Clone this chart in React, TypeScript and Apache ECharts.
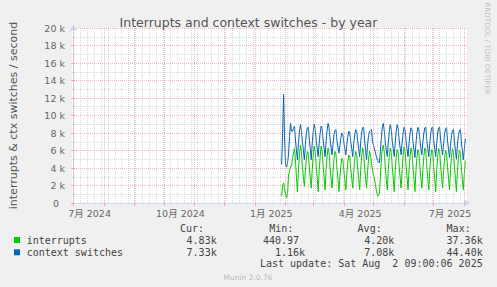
import React, { useEffect, useRef } from 'react';
import * as echarts from 'echarts';

const TITLE = 'Interrupts and context switches - by year';
const Y_NAME = 'interrupts & ctx switches / second';
const AXIS_ORIGIN = '2024-07-01';
const SERIES_START = '2025-01-28';

// daily values, thousands per second, from 2025-01-28
const interrupts = [
  0.76, 2.0, 2.3, 1.5, 1.0, 0.6, 1.1, 3.2, 3.6, 4.2, 4.2, 5.1, 5.7, 6.3, 4.8, 2.9,
  1.3, 3.8, 5.4, 6.6, 5.9, 4.3, 3.0,
  1.9, 3.6, 5.0, 5.9, 5.6, 4.1, 2.9,
  1.7, 3.9, 5.4, 6.5, 5.8, 4.2, 2.9,
  1.3, 3.7, 5.3, 6.5, 5.9, 4.3, 2.9,
  1.5, 3.8, 5.3, 6.3, 5.8, 4.2, 2.9,
  1.7, 3.5, 5.0, 5.9, 5.6, 4.0, 2.8,
  1.3, 3.0, 4.3, 5.1, 4.9, 3.7, 2.6,
  1.5, 3.3, 4.7, 5.5, 5.2, 3.9, 2.8,
  1.7, 3.5, 5.0, 5.9, 5.5, 4.0, 2.8,
  1.5, 3.7, 5.3, 6.3, 5.8, 4.1, 2.8,
  1.7, 3.6, 5.0, 5.9, 5.4, 4.6, 3.7,
  3.2, 2.8, 2.0, 1.4, 0.9, 0.8, 1.1,
  3.0, 5.0, 6.3, 6.6, 5.7, 4.0, 2.7,
  1.5, 3.8, 5.3, 6.3, 5.8, 4.2, 2.8,
  1.3, 3.7, 5.2, 6.1, 5.7, 4.1, 2.9,
  1.7, 3.8, 5.4, 6.4, 5.9, 4.2, 2.9,
  1.5, 3.8, 5.3, 6.3, 5.8, 4.1, 2.8,
  1.3, 3.7, 5.2, 6.1, 5.7, 4.2, 2.9,
  1.7, 3.8, 5.3, 6.3, 5.9, 4.2, 2.8,
  1.5, 3.7, 5.2, 6.1, 5.8, 4.1, 2.8,
  1.3, 3.7, 5.3, 6.2, 5.9, 4.2, 2.9,
  1.7, 3.7, 5.1, 6.0, 5.7, 4.1, 2.8,
  1.5, 3.8, 5.3, 6.2, 5.8, 4.1, 2.8,
  1.3, 3.6, 5.1, 6.0, 5.7, 4.0, 2.7,
  1.5, 3.4, 4.83,
];

const ctxSwitches = [
  4.4, 8.0, 12.4, 7.2, 4.4, 4.1, 4.6, 5.6, 7.6, 9.1, 8.2, 8.2, 8.5, 8.8, 7.2, 6.0,
  4.95, 6.9, 8.1, 8.95, 8.3, 7.0, 6.1,
  4.95, 6.7, 7.9, 8.6, 8.65, 7.3, 6.2,
  4.95, 6.9, 8.2, 9.0, 8.4, 7.1, 6.3,
  5.3, 6.8, 8.0, 8.8, 8.5, 7.2, 6.3,
  5.3, 7.0, 8.3, 9.1, 8.6, 7.3, 6.4,
  5.5, 6.7, 7.8, 8.3, 8.4, 7.1, 6.4,
  5.7, 6.6, 7.5, 8.0, 7.8, 6.9, 6.2,
  5.5, 6.7, 7.6, 8.2, 8.0, 7.0, 6.2,
  5.3, 6.8, 7.8, 8.4, 8.2, 7.1, 6.2,
  5.3, 6.9, 8.0, 8.6, 8.65, 7.2, 6.0,
  4.95, 6.6, 7.7, 8.2, 8.3, 8.4, 7.0,
  6.6, 6.2, 5.7, 5.3, 4.9, 4.7, 4.6,
  5.9, 7.5, 8.7, 9.1, 8.2, 6.9, 6.0,
  5.3, 6.9, 8.2, 8.95, 8.4, 7.1, 6.2,
  5.3, 6.9, 8.2, 8.95, 8.5, 7.2, 6.3,
  5.5, 6.9, 8.0, 8.65, 8.3, 7.1, 6.2,
  5.3, 6.8, 8.0, 8.6, 8.4, 7.0, 6.1,
  5.2, 6.8, 8.0, 8.65, 8.3, 7.2, 6.3,
  5.5, 6.9, 8.0, 8.6, 8.65, 7.1, 6.2,
  5.3, 6.8, 8.0, 8.6, 8.65, 7.1, 6.2,
  5.3, 6.8, 8.0, 8.6, 8.65, 7.2, 6.3,
  5.5, 6.8, 7.9, 8.5, 8.6, 7.1, 6.1,
  5.2, 6.6, 7.7, 8.3, 8.4, 7.0, 6.0,
  5.0, 6.6, 7.7, 8.3, 8.4, 7.0, 6.0,
  4.95, 6.1, 7.33,
];

const monthStarts = [
  '2024-07-01', '2024-08-01', '2024-09-01', '2024-10-01', '2024-11-01', '2024-12-01',
  '2025-01-01', '2025-02-01', '2025-03-01', '2025-04-01', '2025-05-01', '2025-06-01',
  '2025-07-01', '2025-08-01',
];
const labelMonths = ['2024-07-01', '2024-10-01', '2025-01-01', '2025-04-01', '2025-07-01'];
const tickLabels = ['7月 2024', '10月 2024', '1月 2025', '4月 2025', '7月 2025'];

const seriesNames = ['interrupts', 'context switches'];
const seriesColors = ['#00CC00', '#0066B3'];
const statHeaders = ['Cur:', 'Min:', 'Avg:', 'Max:'];
const curValues = ['4.83k', '7.33k'];
const minValues = ['440.97', '1.16k'];
const avgValues = ['4.20k', '7.08k'];
const maxValues = ['37.36k', '44.40k'];
const LAST_UPDATE = 'Last update: Sat Aug  2 09:00:06 2025';
const VERSION = 'Munin 2.0.76';
const WATERMARK = 'RRDTOOL / TOBI OETIKER';

const dayNum = (s: string) => {
  const [y, m, d] = s.split('-').map(Number);
  const [oy, om, od] = AXIS_ORIGIN.split('-').map(Number);
  return (Date.UTC(y, m - 1, d) - Date.UTC(oy, om - 1, od)) / 86400000;
};

const X_MIN = -1.3;
const X_MAX = 398.7;
const LABEL_SHIFT = 16.5;

const RED = 'rgba(235, 120, 120, 0.55)';
const GREY = 'rgba(170, 170, 170, 0.45)';
const AXIS = '#CFD6F8';
const FONT = "'DejaVu Sans', 'Noto Sans CJK SC', sans-serif";
const MONO = "'DejaVu Sans Mono', monospace";

export default function App() {
  const ref = useRef<HTMLDivElement>(null);
  useEffect(() => {
    document.body.style.margin = '0';
    if (!ref.current) return;
    const chart = echarts.init(ref.current, undefined, { renderer: 'svg' });

    const start = dayNum(SERIES_START);
    const intData = interrupts.map((v, i) => [start + i, v]);
    const ctxData = ctxSwitches.map((v, i) => [start + i, v]);
    const monthDays = monthStarts.map(dayNum);
    const weekDays: number[] = [];
    for (let d = 7; d <= X_MAX; d += 7) weekDays.push(d);
    const labelPos = labelMonths.map((m) => dayNum(m) + LABEL_SHIFT);

    const gx = 67, gy = 28, gw = 400, gh = 175;
    const colRight = [216.7, 305, 394.3, 482.7];
    const headRight = [204, 293.3, 381.7, 470.7];
    const statCols = [curValues, minValues, avgValues, maxValues];
    const rowY = [240, 252.3];

    const txt = (text: string, x: number, y: number, align: string, font = `10px ${MONO}`, fill = '#444') => ({
      type: 'text',
      style: { text, x, y, font, fill, textAlign: align, align, textVerticalAlign: 'middle', verticalAlign: 'middle' },
    });

    const graphics: any[] = [];
    statHeaders.forEach((h, i) => graphics.push(txt(h, headRight[i], 228.3, 'right')));
    seriesNames.forEach((n, r) => {
      graphics.push({ type: 'rect', shape: { x: 14, y: rowY[r] - 3, width: 6, height: 6 }, style: { fill: seriesColors[r] } });
      graphics.push(txt(n, 26.7, rowY[r], 'left'));
      statCols.forEach((col, c) => {
        let right = colRight[c];
        if (!/[a-zA-Z]$/.test(col[r])) right -= 6;
        graphics.push(txt(col[r], right, rowY[r], 'right'));
      });
    });
    graphics.push(txt(LAST_UPDATE, 482.7, 263.5, 'right'));
    graphics.push(txt(VERSION, 248, 277, 'center', `7.5px ${FONT}`, '#bbbbbb'));
    graphics.push({
      type: 'text',
      x: 487, y: 48.5, rotation: -Math.PI / 2,
      style: { text: WATERMARK, x: 0, y: 0, font: `7.2px ${FONT}`, fill: '#c4c4c4', textAlign: 'center', align: 'center', textVerticalAlign: 'middle', verticalAlign: 'middle' },
    });

    chart.setOption({
      animation: false,
      backgroundColor: '#f0f0f0',
      title: {
        text: TITLE,
        left: 'center',
        top: 11,
        textStyle: { fontSize: 12.5, fontWeight: 'normal', color: '#555', fontFamily: FONT },
      },
      grid: { left: gx, top: gy, width: gw, height: gh, show: true, backgroundColor: '#ffffff', borderWidth: 0, containLabel: false },
      xAxis: {
        type: 'value',
        min: X_MIN,
        max: X_MAX,
        axisLine: { onZero: false, lineStyle: { color: AXIS, width: 1 }, symbol: ['none', 'arrow'], symbolSize: [6, 7], symbolOffset: [0, 3.5] },
        axisTick: { show: true, length: 3, customValues: monthDays, lineStyle: { color: RED } },
        axisLabel: {
          customValues: labelPos,
          margin: 6,
          color: '#666',
          fontSize: 9.5,
          fontFamily: FONT,
          formatter: (v: number) => {
            const i = labelPos.findIndex((p) => Math.abs(p - v) < 0.01);
            return i >= 0 ? tickLabels[i] : '';
          },
        },
        splitLine: { show: false },
      },
      yAxis: {
        type: 'value',
        min: 0,
        max: 20,
        interval: 2,
        name: Y_NAME,
        nameLocation: 'middle',
        nameGap: 53,
        nameTextStyle: { fontSize: 11, color: '#555', fontFamily: FONT },
        axisLine: { show: true, lineStyle: { color: AXIS, width: 1 }, symbol: ['none', 'arrow'], symbolSize: [6, 7], symbolOffset: [0, 3.5] },
        axisTick: { show: true, length: 2, lineStyle: { color: RED } },
        minorTick: { show: false, splitNumber: 2 },
        axisLabel: {
          margin: 7,
          color: '#666',
          fontSize: 9.5,
          fontFamily: FONT,
          formatter: (v: number) => (v === 0 ? '{z|0}' : `${v} k`),
          rich: { z: { padding: [0, 6, 0, 0], fontSize: 9.5, fontFamily: FONT, color: '#666' } },
        },
        splitLine: { show: true, lineStyle: { color: RED, type: [1, 1], width: 1 } },
        minorSplitLine: { show: true, lineStyle: { color: GREY, type: [1, 1], width: 1 } },
      },
      graphic: graphics,
      series: [
        {
          type: 'line',
          name: 'grid',
          data: [],
          silent: true,
          markLine: {
            silent: true,
            symbol: ['none', 'none'],
            label: { show: false },
            emphasis: { disabled: true },
            data: [
              ...weekDays.map((d) => ({ xAxis: d, lineStyle: { color: GREY, type: [1, 1], width: 1 } })),
              ...monthDays.map((d) => ({ xAxis: d, lineStyle: { color: RED, type: [1, 1], width: 1 } })),
            ],
          },
        },
        {
          type: 'line',
          name: seriesNames[0],
          data: intData,
          showSymbol: false,
          silent: true,
          lineStyle: { color: seriesColors[0], width: 1 },
          itemStyle: { color: seriesColors[0] },
        },
        {
          type: 'line',
          name: seriesNames[1],
          data: ctxData,
          showSymbol: false,
          silent: true,
          lineStyle: { color: seriesColors[1], width: 1 },
          itemStyle: { color: seriesColors[1] },
        },
      ],
    });
    return () => chart.dispose();
  }, []);
  return <div ref={ref} style={{ width: 497, height: 287 }} />;
}
